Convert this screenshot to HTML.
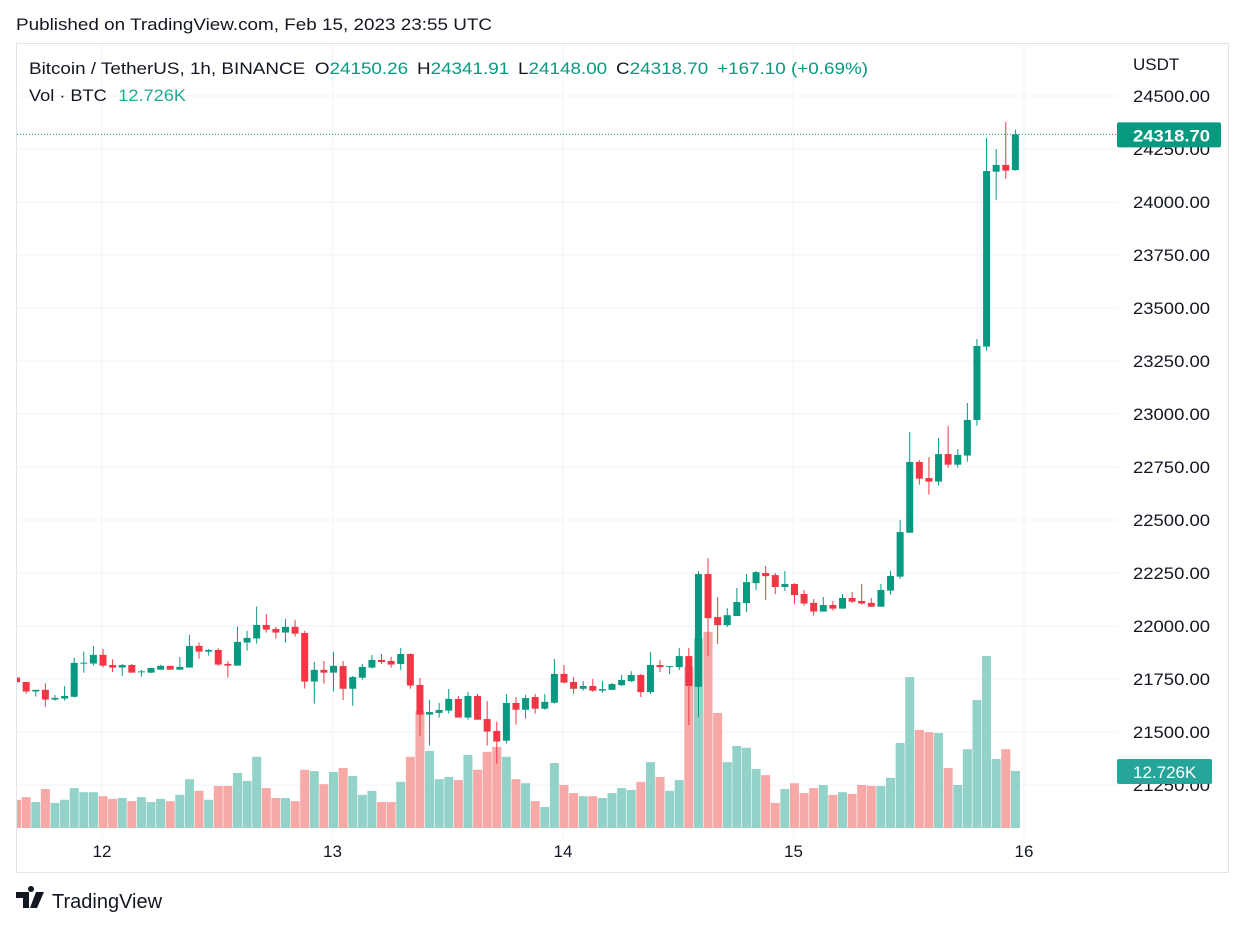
<!DOCTYPE html>
<html><head><meta charset="utf-8">
<style>
body{margin:0;background:#fff;width:1245px;height:929px;overflow:hidden;font-family:"Liberation Sans",sans-serif;}
svg text{font-family:"Liberation Sans",sans-serif;}
</style></head>
<body>
<svg id="chart" width="1245" height="929" xmlns="http://www.w3.org/2000/svg">
<defs><clipPath id="plotclip"><rect x="17" y="44" width="1101" height="794"/></clipPath></defs>
<text x="16" y="30" font-size="17" fill="#131722" textLength="476" lengthAdjust="spacingAndGlyphs">Published on TradingView.com, Feb 15, 2023 23:55 UTC</text>
<rect x="16.5" y="43.5" width="1212" height="829" fill="none" stroke="#e0e3eb"/>
<g id="grid"></g>
<g id="vol" clip-path="url(#plotclip)"></g>
<g id="candles" clip-path="url(#plotclip)"></g>
<g id="axes"></g>
<g font-size="17">
<text x="29" y="74" fill="#131722" textLength="839" lengthAdjust="spacingAndGlyphs">Bitcoin / TetherUS, 1h, BINANCE <tspan dx="4">O</tspan><tspan fill="#089981">24150.26</tspan><tspan dx="8">H</tspan><tspan fill="#089981">24341.91</tspan><tspan dx="8">L</tspan><tspan fill="#089981">24148.00</tspan><tspan dx="8">C</tspan><tspan fill="#089981">24318.70</tspan><tspan dx="8" fill="#089981">+167.10 (+0.69%)</tspan></text>
<text x="29" y="101" fill="#131722" textLength="157" lengthAdjust="spacingAndGlyphs">Vol · BTC <tspan dx="6" fill="#22ab94">12.726K</tspan></text>
</g>
<g>
<path d="M16 892h13v16h-6v-10h-7z M31 892a3 3 0 1 1 0.01 0z M36 892h8l-7 16h-7z" fill="#131722"/>
<text x="52" y="908" font-size="20" fill="#131722">TradingView</text>
</g>
</svg>
<script>
const opens=[21757,21736,21691,21699,21653,21658,21666,21824,21823,21864,21816,21804,21816,21785,21780,21794,21812,21794,21804,21906,21879,21887,21821,21813,21922,21941,22005,21986,21969,21996,21967,21738,21793,21780,21811,21704,21756,21804,21840,21835,21821,21868,21722,21582,21590,21601,21656,21568,21670,21561,21505,21459,21637,21605,21665,21610,21638,21774,21736,21704,21717,21695,21699,21721,21740,21769,21688,21816,21808,21806,21858,21713,22245,22042,22004,22047,22108,22202,22250,22240,22184,22198,22151,22109,22068,22099,22082,22132,22118,22109,22091,22167,22233,22440,22774,22698,22681,22811,22761,22804,22972,23318,24143,24175,24150.26];
const highs=[21761,21736,21699,21730,21675,21717,21850,21879,21906,21892,21843,21821,21821,21793,21802,21817,21812,21854,21958,21922,21892,21895,21834,21997,21977,22092,22057,21996,22033,22029,21977,21831,21835,21878,21835,21764,21821,21863,21868,21854,21896,21871,21755,21651,21637,21703,21670,21689,21679,21646,21549,21679,21665,21675,21679,21679,21844,21816,21759,21740,21750,21740,21731,21769,21787,21773,21877,21839,21811,21896,21896,22259,22320,22136,22084,22179,22245,22259,22283,22250,22259,22202,22170,22127,22137,22118,22151,22161,22198,22132,22198,22260,22500,22915,22783,22797,22887,22943,22835,23052,23354,24302,24250,24377,24341.91];
const lows=[21719,21681,21667,21620,21647,21648,21662,21780,21813,21804,21783,21765,21780,21761,21777,21794,21794,21794,21804,21845,21860,21813,21757,21813,21884,21917,21969,21941,21922,21950,21705,21634,21728,21691,21651,21624,21747,21799,21821,21804,21793,21704,21483,21436,21568,21587,21568,21558,21558,21436,21351,21445,21535,21563,21587,21605,21634,21730,21680,21695,21690,21685,21699,21717,21735,21665,21679,21783,21773,21792,21533,21570,21858,21915,21995,22047,22066,22169,22122,22150,22165,22103,22096,22049,22068,22073,22082,22109,22101,22091,22091,22148,22223,22440,22667,22620,22662,22747,22747,22775,22945,23299,24010,24109,24148];
const closes=[21735,21691,21699,21653,21661,21670,21826,21827,21864,21813,21804,21816,21780,21786,21802,21812,21794,21807,21906,21879,21887,21818,21813,21925,21944,22005,21983,21969,21996,21964,21738,21793,21780,21812,21704,21759,21807,21840,21830,21818,21868,21719,21582,21594,21604,21656,21568,21670,21558,21502,21455,21637,21605,21660,21610,21642,21774,21733,21704,21717,21695,21702,21726,21745,21769,21688,21816,21806,21811,21858,21717,22245,22037,22004,22051,22113,22207,22254,22235,22184,22198,22146,22106,22068,22099,22082,22132,22115,22106,22091,22170,22236,22443,22774,22695,22681,22811,22761,22807,22972,23321,24146,24175,24148,24318.70];
const volumes=[6.3,6.9,5.8,8.7,5.6,6.3,8.9,8.0,8.0,7.1,6.5,6.7,6.0,6.9,5.8,6.5,6.0,7.4,10.9,8.3,6.3,9.4,9.4,12.3,10.5,15.9,8.9,6.7,6.7,6.0,13.0,12.7,9.8,12.5,13.4,11.6,7.4,8.3,5.8,5.8,10.3,15.9,26.1,17.2,10.9,11.4,10.7,16.3,13.0,17.0,18.1,15.9,10.9,10.0,6.0,4.7,14.5,9.6,7.8,7.1,7.1,6.7,7.8,8.9,8.5,10.3,14.7,11.4,8.3,10.7,36.0,42.4,43.8,25.7,14.7,18.3,17.9,13.2,11.8,5.6,8.7,10.0,7.8,8.9,9.6,7.4,8.0,7.6,9.6,9.4,9.4,11.2,19.0,33.7,21.9,21.4,21.2,13.4,9.6,17.6,28.6,38.4,15.4,17.6,12.726];
const priceTicks=[24500,24250,24000,23750,23500,23250,23000,22750,22500,22250,22000,21750,21500,21250];
const dayLabels=["12","13","14","15","16"];
const firstHourOffset=-9;

const NS="http://www.w3.org/2000/svg";
function yP(p){return 96+(24500-p)*0.212;}
function xH(h){return 102+h*9.604;}
function xI(i){return xH(i+firstHourOffset)+1;}
function yV(v){return 828-v*57/12.726;}
function mk(tag,attrs,parent){const e=document.createElementNS(NS,tag);for(const k in attrs)e.setAttribute(k,attrs[k]);parent.appendChild(e);return e;}
const grid=document.getElementById('grid'),vol=document.getElementById('vol'),cg=document.getElementById('candles'),ax=document.getElementById('axes');
priceTicks.forEach(p=>{
 const l=mk('line',{x1:17,x2:1118,y1:yP(p),y2:yP(p),stroke:'#f0f3fa','stroke-width':1},grid);
 
 
 const t=mk('text',{x:1133,y:yP(p)+6,'font-size':17,fill:'#131722',textLength:77,lengthAdjust:'spacingAndGlyphs'},ax);t.textContent=p.toFixed(2);
 
 
});
dayLabels.forEach((d,k)=>{
 const x=xH(k*24);
 const l=mk('line',{x1:x,x2:x,y1:44,y2:838,stroke:'#f0f3fa','stroke-width':1},grid);
 
 
 const t=mk('text',{x:x,y:857,'font-size':17,fill:'#131722','text-anchor':'middle'},ax);t.textContent=d;
 
 
});
const u=mk('text',{x:1133,y:70,'font-size':17,fill:'#131722'},ax);u.textContent='USDT';


for(let i=0;i<opens.length;i++){
 const up=closes[i]>=opens[i];
 const x=xI(i);
 const b=mk('rect',{x:x-4.5,y:yV(volumes[i]),width:9,height:828-yV(volumes[i]),fill:up?'#92d2c9':'#f7a9a7'},vol);
 
 
 const c=up?'#089981':'#f23645';
 const w=mk('line',{x1:x,x2:x,y1:yP(highs[i]),y2:yP(lows[i]),stroke:c,'stroke-width':1},cg);
 
 
 const top=yP(Math.max(opens[i],closes[i])),bot=yP(Math.min(opens[i],closes[i]));
 const r=mk('rect',{x:x-3.5,y:top,width:7,height:Math.max(1,bot-top),fill:c},cg);
 
 
}
const last=closes[closes.length-1],ly=yP(last);
const pl=mk('line',{x1:17,x2:1118,y1:ly,y2:ly,stroke:'#089981','stroke-width':1,'stroke-dasharray':'1 2'},ax);


const lb=mk('rect',{x:1117,y:ly-12,width:104,height:25,rx:2,fill:'#089981'},ax);


const lt=mk('text',{x:1133,y:ly+7,'font-size':17,fill:'#fff','font-weight':'bold',textLength:77,lengthAdjust:'spacingAndGlyphs'},ax);lt.textContent=last.toFixed(2);


const lastV=volumes[volumes.length-1],vy=yV(lastV);
const vb=mk('rect',{x:1117,y:vy-12,width:95,height:25,rx:2,fill:'#26a69a'},ax);


const vt=mk('text',{x:1133,y:vy+7,'font-size':17,fill:'#fff'},ax);vt.textContent=lastV.toFixed(3)+'K';


</script>
</body></html>
